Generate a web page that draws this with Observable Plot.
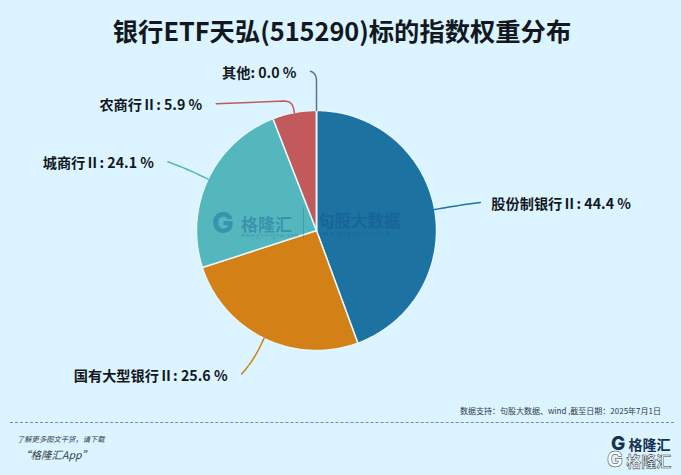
<!DOCTYPE html>
<html><head><meta charset="utf-8">
<script src="https://cdn.jsdelivr.net/npm/d3@7"></script>
<script src="https://cdn.jsdelivr.net/npm/@observablehq/plot@0.6"></script>
<style>
html,body{margin:0;padding:0;background:#dbf4ff;overflow:hidden}
#page{position:relative;width:681px;height:475px;background:#dbf4ff;font-family:"Noto Sans CJK SC","Noto Sans",sans-serif;color:#14181e}
#title{position:absolute;left:0;top:11px;width:684px;height:38px;line-height:38px;text-align:center;font-size:25.3px;font-weight:700;white-space:nowrap}
#chart{position:absolute;left:0;top:50px;width:681px;height:340px}
#chart svg{display:block;background:transparent}
.abs{position:absolute;white-space:nowrap}
</style></head><body>
<div id="page">
  <div id="title">银行ETF天弘(515290)标的指数权重分布</div>
  <div id="chart"></div>
  <div class="abs" style="left:212px;top:208px;font:800 29px/30px Inter,sans-serif;color:rgba(20,96,150,.42)">G</div>
  <div class="abs" style="left:241px;top:215px;font-size:17px;line-height:17px;font-weight:700;color:rgba(20,96,150,.42)">格隆汇</div>
  <div class="abs" style="left:241px;top:232px;font-size:5px;line-height:6px;letter-spacing:.6px;color:rgba(20,96,150,.42)">www.gelonghui.com</div>
  <div class="abs" style="left:303px;top:207px;width:1px;height:32px;background:rgba(20,96,150,.3)"></div>
  <div class="abs" style="left:318px;top:212px;font-size:16.5px;line-height:17px;font-weight:700;color:rgba(20,90,145,.55)">句股大数据</div>
  <div class="abs" style="left:318px;top:230px;font-size:5.5px;line-height:6px;letter-spacing:1.4px;color:rgba(20,90,145,.55)">www.gogudata.com</div>
  <div class="abs" style="right:20px;top:404px;font-size:8px;line-height:14px;color:#333b44">数据支持：句股大数据、wind ,截至日期：2025年7月1日</div>
  <div class="abs" style="left:10px;top:422px;width:664px;border-top:1px dashed #7d8a92"></div>
  <div class="abs" style="left:17px;top:433px;font-size:7.3px;line-height:12px;font-style:italic;color:#333b44">了解更多图文干货，请下载</div>
  <div class="abs" style="left:20px;top:447px;font-size:10.5px;line-height:16px;font-style:italic;color:#333b44">“格隆汇App”</div>
  <div class="abs" style="left:611px;top:437px;line-height:14px;font-size:14px;font-weight:700;color:#17324f"><span style="font:800 19px/14px Inter,sans-serif">G</span> 格隆汇</div>
  <div class="abs" style="left:607px;top:451px;line-height:17px;font-size:15px;font-weight:700;color:#fff;-webkit-text-stroke:.5px #2a3a48"><span style="font:800 21px/17px Inter,sans-serif">G</span> 格隆汇</div>
</div>
<script>
// Data
const categories = ["股份制银行Ⅱ", "国有大型银行Ⅱ", "城商行Ⅱ", "农商行Ⅱ", "其他"];
const weights = [44.4, 25.6, 24.1, 5.9, 0.0];
const colors = ["#1c72a1", "#d38016", "#54b7bd", "#c25a5c", "#5b6fa5"];

// Leader geometry (pie radius = 1): elbow radius, run after the elbow, corner softness
const leaderRadius = [1.15, 1.2, 1.2, 1.1, 1.31];
const leaderRunX = [0.233, -0.1, -0.154, -0.633, -0.05];
const leaderRunY = [0.033, -0.117, 0.058, -0.025, 0.017];
const leaderCorner = [0.12, 0.12, 0.12, 0.07, 0.07];

const pxPerUnit = 120, centerX = 316, centerY = 180;
const total = d3.sum(weights);
const polar = (turn, r) => [r * Math.sin(turn * 2 * Math.PI), r * Math.cos(turn * 2 * Math.PI)];

const cumulative = d3.cumsum(weights).map(v => v / total);
const slices = categories.map((category, i) => {
  const t0 = i ? cumulative[i - 1] : 0, t1 = cumulative[i];
  return {category, weight: weights[i], i, t0, t1, mid: (t0 + t1) / 2};
});

// Wedge outlines on the unit circle
const wedgePts = slices.flatMap(s => {
  const n = Math.max(1, Math.ceil((s.t1 - s.t0) * 360));
  const ring = d3.range(n + 1).map(k => polar(s.t0 + (s.t1 - s.t0) * k / n, 1));
  return [[0, 0], ...ring, [0, 0]].map(([x, y]) => ({x, y, category: s.category}));
});

// Leader lines and their labels
const labels = [];
const leaderPts = slices.flatMap(s => {
  const mid = s.i === slices.length - 1 ? 1 : s.mid;
  const a = polar(mid, 1), b = polar(mid, leaderRadius[s.i]);
  const c = [b[0] + leaderRunX[s.i], b[1] + leaderRunY[s.i]];
  const soft = leaderCorner[s.i];
  const toward = (p, q, d) => {
    const L = Math.hypot(q[0] - p[0], q[1] - p[1]) || 1;
    const f = Math.min(d / L, 0.9);
    return [p[0] + (q[0] - p[0]) * f, p[1] + (q[1] - p[1]) * f];
  };
  const p1 = toward(b, a, soft), p2 = toward(b, c, soft);
  const bend = d3.range(9).map(k => {
    const t = k / 8, u = 1 - t;
    return [u * u * p1[0] + 2 * u * t * b[0] + t * t * p2[0], u * u * p1[1] + 2 * u * t * b[1] + t * t * p2[1]];
  });
  labels.push({x: c[0], y: c[1], right: c[0] > 0, text: `${s.category}: ${s.weight.toFixed(1)} %`});
  return [a, ...bend, c].map(([x, y]) => ({x, y, category: s.category}));
});

const textStyle = {
  x: "x", y: "y", text: "text", fontSize: 14.2, fontWeight: 700, dy: 2,
  fontFamily: '"Noto Sans CJK SC", "Noto Sans", sans-serif', fill: "#14181e"
};

const chart = Plot.plot({
  width: 681, height: 340,
  marginTop: 0, marginRight: 0, marginBottom: 0, marginLeft: 0,
  style: {background: "transparent", overflow: "visible"},
  x: {axis: null, domain: [-centerX / pxPerUnit, (681 - centerX) / pxPerUnit], range: [0, 681]},
  y: {axis: null, domain: [centerY / pxPerUnit, (centerY - 340) / pxPerUnit], range: [0, 340]},
  color: {domain: categories, range: colors},
  marks: [
    Plot.line(wedgePts, {x: "x", y: "y", z: "category", fill: "category", stroke: "#e6f6fc", strokeWidth: 1.5, strokeLinejoin: "round"}),
    Plot.line(leaderPts, {x: "x", y: "y", z: "category", stroke: "category", strokeWidth: 1.5}),
    Plot.text(labels.filter(d => d.right), {...textStyle, textAnchor: "start", dx: 11}),
    Plot.text(labels.filter(d => !d.right), {...textStyle, textAnchor: "end", dx: -14})
  ]
});
document.getElementById("chart").appendChild(chart);
</script>
</body></html>
